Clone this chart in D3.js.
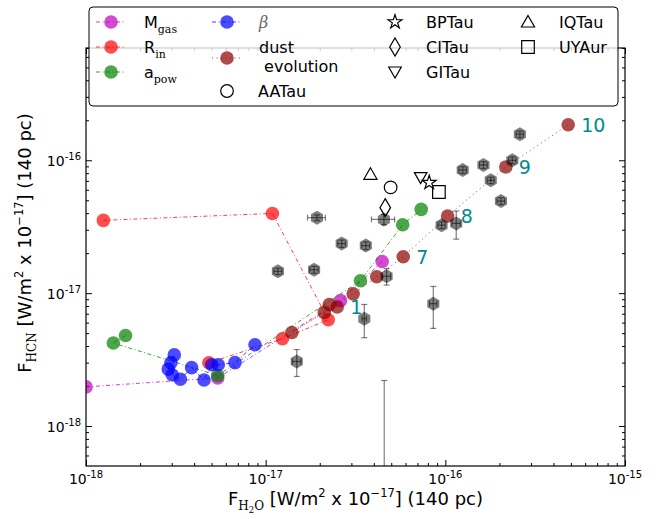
<!DOCTYPE html>
<html>
<head>
<meta charset="utf-8">
<script src="https://cdn.jsdelivr.net/npm/d3@7"></script>
<style>
body{margin:0;background:#fff}
text{font-family:"DejaVu Sans",sans-serif}
</style>
</head>
<body>
<svg id="chart" width="656" height="519"></svg>
<script>
"use strict";
// model series (x = F_H2O, y = F_HCN)
var mgasX = [1.0e-18, 5.41e-18, 2.61e-17, 4.45e-17];
var mgasY = [1.97e-18, 2.30e-18, 8.78e-18, 1.73e-17];
var rinX = [1.25e-18, 1.09e-17, 2.23e-17, 1.24e-17, 4.83e-18];
var rinY = [3.53e-17, 3.98e-17, 6.31e-18, 4.54e-18, 2.99e-18];
var apowX = [1.66e-18, 1.42e-18, 5.41e-18, 3.37e-17, 5.79e-17, 7.34e-17];
var apowY = [4.80e-18, 4.21e-18, 2.40e-18, 1.24e-17, 3.27e-17, 4.27e-17];
var betaX = [2.87e-18, 2.97e-18, 3.10e-18, 3.02e-18, 3.35e-18, 3.87e-18, 4.54e-18, 5.01e-18, 5.45e-18, 6.75e-18, 8.72e-18];
var betaY = [2.68e-18, 3.00e-18, 3.43e-18, 2.43e-18, 2.25e-18, 2.75e-18, 2.22e-18, 2.89e-18, 2.89e-18, 3.00e-18, 4.09e-18];
var dustX = [2.50e-17, 2.26e-17, 2.12e-17, 1.40e-17, 3.07e-17, 4.15e-17, 5.83e-17, 1.03e-16, 2.17e-16, 4.83e-16];
var dustY = [7.87e-18, 8.19e-18, 7.16e-18, 5.06e-18, 9.88e-18, 1.33e-17, 1.88e-17, 3.81e-17, 8.90e-17, 1.85e-16];
var dustLabels = ["1", "", "", "", "", "", "7", "8", "9", "10"];

// named disks
var diskNames = ["AATau", "BPTau", "CITau", "GITau", "IQTau", "UYAur"];
var diskX = [4.96e-17, 8.13e-17, 4.63e-17, 7.29e-17, 3.83e-17, 9.21e-17];
var diskY = [6.25e-17, 6.79e-17, 4.40e-17, 7.40e-17, 7.84e-17, 5.77e-17];

// observed sample with error bars
var obsX = [1.93e-17, 4.55e-17, 2.65e-17, 3.61e-17, 1.17e-17, 1.86e-17, 4.71e-17, 9.53e-17, 1.15e-16, 1.25e-16,
            1.63e-16, 2.60e-16, 2.36e-16, 1.79e-16, 2.04e-16, 3.54e-17, 8.57e-17, 1.49e-17, 4.57e-17];
var obsY = [3.70e-17, 3.59e-17, 2.36e-17, 2.28e-17, 1.46e-17, 1.50e-17, 1.34e-17, 3.25e-17, 3.35e-17, 8.45e-17,
            9.22e-17, 1.57e-16, 1.00e-16, 7.06e-17, 4.93e-17, 6.42e-18, 8.33e-18, 3.06e-18, 2.0e-19];
var obsXErr = [2.2e-18, 6.7e-18, 1.3e-18, 1.8e-18, 0.6e-18, 1.0e-18, 2.5e-18, 4.5e-18, 6e-18, 6e-18,
               8e-18, 1.2e-17, 1.1e-17, 8e-18, 1.0e-17, 1.0e-18, 4e-18, 0.8e-18, 0];
var obsYErr = [1.8e-18, 3.2e-18, 1.5e-18, 1.5e-18, 0.8e-18, 0.9e-18, 1.9e-18, 1.9e-18, 8.0e-18, 5e-18,
               5.5e-18, 9e-18, 6e-18, 4e-18, 3e-18, 1.8e-18, 2.9e-18, 0.7e-18, 2.0e-18];

var xMajor = [1e-18, 1e-17, 1e-16, 1e-15];
var yMajor = [1e-18, 1e-17, 1e-16];
var xTickExp = ["-18", "-17", "-16", "-15"];
var yTickExp = ["-18", "-17", "-16"];

var L = 86, R = 625, T = 48, B = 466;
var x = d3.scaleLog().domain([1e-18, 1e-15]).range([L, R]);
var y = d3.scaleLog().domain([5e-19, 7e-16]).range([B, T]);

var svg = d3.select("#chart");
svg.append("defs").append("clipPath").attr("id", "clip")
  .append("rect").attr("x", L).attr("y", T).attr("width", R - L).attr("height", B - T);

// ticks (inward, all four sides)
function minorTicks(dom) {
  var out = [];
  for (var e = -19; e <= -15; e++) {
    for (var m = 2; m <= 9; m++) {
      var v = m * Math.pow(10, e);
      if (v > dom[0] && v < dom[1]) out.push(v);
    }
  }
  return out;
}
function tickLayer(axis, tr) {
  svg.append("g").attr("transform", tr).call(axis)
    .call(g => g.select(".domain").remove())
    .call(g => g.selectAll("line").attr("stroke", "#000"));
}
tickLayer(d3.axisBottom(x).tickValues(xMajor).tickSize(-6).tickFormat(""), "translate(0," + B + ")");
tickLayer(d3.axisBottom(x).tickValues(minorTicks(x.domain())).tickSize(-3).tickFormat(""), "translate(0," + B + ")");
tickLayer(d3.axisTop(x).tickValues(xMajor).tickSize(-6).tickFormat(""), "translate(0," + T + ")");
tickLayer(d3.axisTop(x).tickValues(minorTicks(x.domain())).tickSize(-3).tickFormat(""), "translate(0," + T + ")");
tickLayer(d3.axisLeft(y).tickValues(yMajor).tickSize(-6).tickFormat(""), "translate(" + L + ",0)");
tickLayer(d3.axisLeft(y).tickValues(minorTicks(y.domain())).tickSize(-3).tickFormat(""), "translate(" + L + ",0)");
tickLayer(d3.axisRight(y).tickValues(yMajor).tickSize(-6).tickFormat(""), "translate(" + R + ",0)");
tickLayer(d3.axisRight(y).tickValues(minorTicks(y.domain())).tickSize(-3).tickFormat(""), "translate(" + R + ",0)");

// tick labels
xMajor.forEach(function (v, i) {
  var t = svg.append("text").attr("x", x(v)).attr("y", 484).attr("text-anchor", "middle").attr("font-size", 14);
  t.append("tspan").text("10");
  t.append("tspan").attr("dy", -6).attr("font-size", 10).text(xTickExp[i]);
});
yMajor.forEach(function (v, i) {
  var t = svg.append("text").attr("x", 81).attr("y", y(v) + 6).attr("text-anchor", "end").attr("font-size", 14);
  t.append("tspan").text("10");
  t.append("tspan").attr("dy", -6).attr("font-size", 10).text(yTickExp[i]);
});

// rich text helper: parts with baseline offset
function rich(t, parts) {
  var cur = 0;
  parts.forEach(function (p) {
    var off = p.off || 0;
    var s = t.append("tspan").attr("dy", off - cur).text(p.t);
    if (p.size) s.attr("font-size", p.size);
    if (p.serif) s.attr("font-family", "DejaVu Serif");
    if (p.italic) s.attr("font-style", "italic");
    if (p.fill) s.attr("fill", p.fill);
    cur = off;
  });
}

var xt = svg.append("text").attr("x", (L + R) / 2).attr("y", 505).attr("text-anchor", "middle").attr("font-size", 18);
rich(xt, [{t: "F"}, {t: "H", off: 5, size: 12, serif: 1}, {t: "2", off: 8, size: 8.5, serif: 1},
  {t: "O", off: 5, size: 12, serif: 1}, {t: " [W/m"}, {t: "2", off: -8, size: 11.5}, {t: " x 10"},
  {t: "\u221217", off: -8, size: 11.5}, {t: "] (140 pc)"}]);
var yt = svg.append("text").attr("transform", "translate(31,243) rotate(-90)")
  .attr("text-anchor", "middle").attr("font-size", 18);
rich(yt, [{t: "F"}, {t: "HCN", off: 5, size: 12, serif: 1}, {t: " [W/m"}, {t: "2", off: -8, size: 11.5},
  {t: " x 10"}, {t: "\u221217", off: -8, size: 11.5}, {t: "] (140 pc)"}]);

// plot content
var plot = svg.append("g").attr("clip-path", "url(#clip)");
var line = d3.line().x(d => x(d[0])).y(d => y(d[1]));
function pairs(xs, ys) { return xs.map((v, i) => [v, ys[i]]); }

var series = [
  {xs: mgasX, ys: mgasY, color: "#bf00bf", dash: "4,2.5,1,2.5"},
  {xs: rinX, ys: rinY, color: "#ff0000", dash: "4,2.5,1,2.5"},
  {xs: apowX, ys: apowY, color: "#008000", dash: "4,2.5,1,2.5"},
  {xs: betaX, ys: betaY, color: "#0000ff", dash: "4,2.5,1,2.5"},
  {xs: dustX, ys: dustY, color: "#8b0000", dash: "1,3.5"}
];
series.forEach(function (s) {
  var d = pairs(s.xs, s.ys);
  plot.append("path").attr("d", line(d)).attr("fill", "none").attr("stroke", s.color)
    .attr("stroke-width", 1).attr("stroke-opacity", 0.75).attr("stroke-dasharray", s.dash);
  plot.selectAll(null).data(d).enter().append("circle")
    .attr("cx", p => x(p[0])).attr("cy", p => y(p[1])).attr("r", 6.8)
    .attr("fill", s.color).attr("fill-opacity", 0.7);
});

// observations: hexagons + error bars
function hexPath(r) {
  var p = [];
  for (var k = 0; k < 6; k++) {
    var a = Math.PI / 2 + k * Math.PI / 3;
    p.push([r * Math.cos(a), r * Math.sin(a)]);
  }
  return "M" + p.join("L") + "Z";
}
var obs = obsX.map((v, i) => ({x: v, y: obsY[i], xe: obsXErr[i], ye: obsYErr[i]}));
plot.selectAll(null).data(obs).enter().append("path")
  .attr("d", hexPath(7)).attr("transform", d => "translate(" + x(d.x) + "," + y(d.y) + ")")
  .attr("fill", "#000").attr("fill-opacity", 0.5);
var eb = plot.append("g").attr("stroke", "#000").attr("stroke-opacity", 0.5).attr("stroke-width", 1.2);
obs.forEach(function (d) {
  var cx = x(d.x), cy = y(d.y);
  if (d.xe > 0) {
    var x0 = x(d.x - d.xe), x1 = x(d.x + d.xe);
    eb.append("line").attr("x1", x0).attr("x2", x1).attr("y1", cy).attr("y2", cy);
    eb.append("line").attr("x1", x0).attr("x2", x0).attr("y1", cy - 3).attr("y2", cy + 3);
    eb.append("line").attr("x1", x1).attr("x2", x1).attr("y1", cy - 3).attr("y2", cy + 3);
  }
  if (d.ye > 0) {
    var y0 = d.y - d.ye > 0 ? y(d.y - d.ye) : B + 20, y1 = y(d.y + d.ye);
    eb.append("line").attr("x1", cx).attr("x2", cx).attr("y1", y0).attr("y2", y1);
    eb.append("line").attr("x1", cx - 3).attr("x2", cx + 3).attr("y1", y0).attr("y2", y0);
    eb.append("line").attr("x1", cx - 3).attr("x2", cx + 3).attr("y1", y1).attr("y2", y1);
  }
});

// named disks: open markers
function shape(name) {
  switch (name) {
    case "AATau": return d3.symbol(d3.symbolCircle, 125)();
    case "BPTau": return d3.symbol(d3.symbolStar, 60)();
    case "CITau": return "M0,-9L5.3,0L0,9L-5.3,0Z";
    case "GITau": return "M0,6L-6.3,-5L6.3,-5Z";
    case "IQTau": return "M0,-6.5L6.6,5L-6.6,5Z";
    case "UYAur": return "M-6.3,-6.3H6.3V6.3H-6.3Z";
  }
}
plot.selectAll(null).data(diskNames).enter().append("path")
  .attr("d", n => shape(n))
  .attr("transform", (n, i) => "translate(" + x(diskX[i]) + "," + y(diskY[i]) + ")")
  .attr("fill", "none").attr("stroke", "#000").attr("stroke-width", 1.2);

// dust evolution step labels
plot.selectAll(null).data(dustLabels.map((l, i) => ({l: l, x: dustX[i], y: dustY[i]})).filter(d => d.l))
  .enter().append("text")
  .attr("x", d => x(d.x) + 13).attr("y", d => y(d.y) + 7)
  .attr("font-size", 19).attr("fill", "#008b8b").text(d => d.l);

// frame
svg.append("rect").attr("x", L).attr("y", T).attr("width", R - L).attr("height", B - T)
  .attr("fill", "none").attr("stroke", "#000").attr("stroke-width", 1.2);

// legend
var lg = svg.append("g");
lg.append("rect").attr("x", 89).attr("y", 7).attr("width", 529).attr("height", 99).attr("rx", 4)
  .attr("fill", "#fff").attr("fill-opacity", 0.8).attr("stroke", "#000").attr("stroke-width", 1);
function lineHandle(cx, cy, s) {
  lg.append("line").attr("x1", cx - 15).attr("x2", cx + 15).attr("y1", cy).attr("y2", cy)
    .attr("stroke", s.color).attr("stroke-opacity", 0.75).attr("stroke-dasharray", s.dash);
  lg.append("circle").attr("cx", cx).attr("cy", cy).attr("r", 6.8).attr("fill", s.color).attr("fill-opacity", 0.7);
}
function legText(tx, ty, parts) {
  var t = lg.append("text").attr("x", tx).attr("y", ty + 6).attr("font-size", 16);
  rich(t, parts);
}
lineHandle(111, 22, series[0]);
legText(144, 22, [{t: "M"}, {t: "gas", off: 5, size: 11, serif: 1}]);
lineHandle(111, 47, series[1]);
legText(144, 47, [{t: "R"}, {t: "in", off: 5, size: 11, serif: 1}]);
lineHandle(111, 72, series[2]);
legText(144, 72, [{t: "a"}, {t: "pow", off: 5, size: 11, serif: 1}]);
lineHandle(227, 22, series[3]);
legText(259, 22, [{t: "\u03b2", serif: 1, italic: 1, fill: "#666"}]);
lineHandle(227, 58, series[4]);
legText(259, 47, [{t: "dust"}]);
legText(259, 66, [{t: "\u00a0evolution"}]);
var legDisks = [["AATau", 227, 91], ["BPTau", 395, 22], ["CITau", 395, 47], ["GITau", 395, 72],
                ["IQTau", 528, 22], ["UYAur", 528, 47]];
legDisks.forEach(function (d) {
  lg.append("path").attr("d", shape(d[0])).attr("transform", "translate(" + d[1] + "," + d[2] + ")")
    .attr("fill", "none").attr("stroke", "#000").attr("stroke-width", 1.2);
  legText(d[1] + 31, d[2], [{t: d[0]}]);
});
</script>
</body>
</html>
